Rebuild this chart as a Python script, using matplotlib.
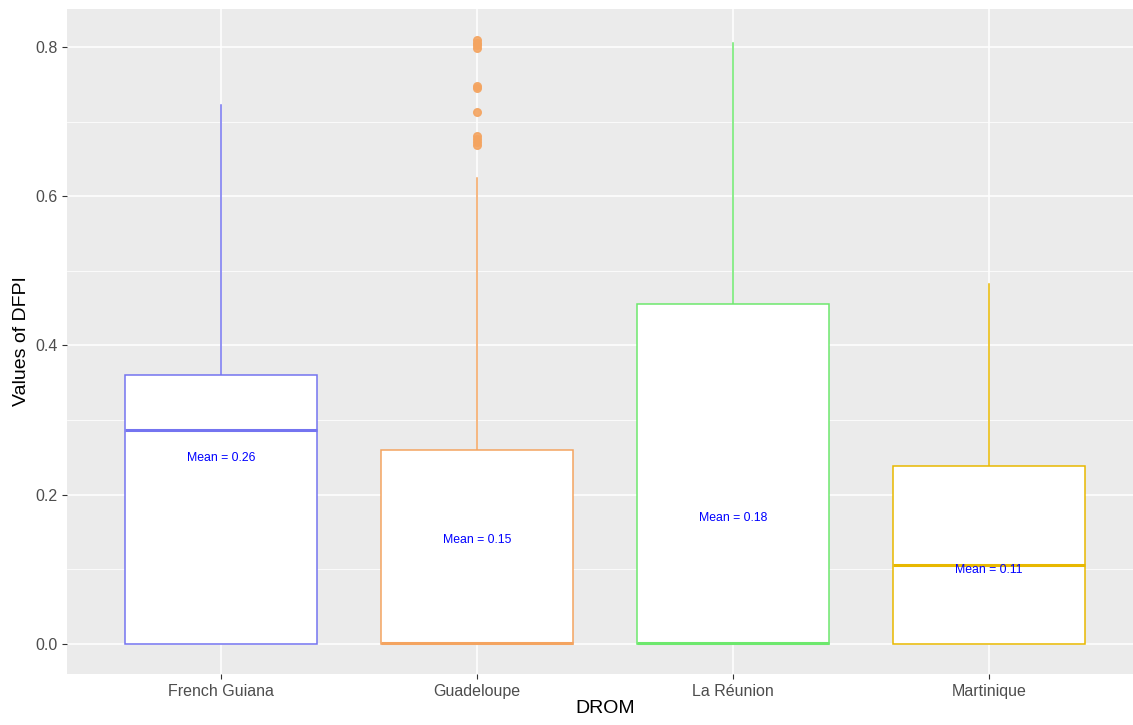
import matplotlib.pyplot as plt

plt.rcParams['font.family'] = ['Liberation Sans', 'DejaVu Sans']

# DFPI summary per DROM
regions = ['French Guiana', 'Guadeloupe', 'La Réunion', 'Martinique']
q1 = [0.0, 0.0, 0.0, 0.0]
medians = [0.286, 0.001, 0.001, 0.106]
q3 = [0.361, 0.260, 0.455, 0.238]
whisk_lo = [0.0, 0.0, 0.0, 0.0]
whisk_hi = [0.722, 0.625, 0.805, 0.483]
outliers = [
    [],
    [0.669, 0.673, 0.677, 0.681, 0.713, 0.745, 0.748, 0.799, 0.803, 0.806, 0.810],
    [],
    [],
]
means = [0.26, 0.15, 0.18, 0.11]
colors = ['#7474F0', '#F4A460', '#6DE86D', '#E8B800']

stats = []
for i, name in enumerate(regions):
    stats.append({
        'label': name,
        'q1': q1[i],
        'med': medians[i],
        'q3': q3[i],
        'whislo': whisk_lo[i],
        'whishi': whisk_hi[i],
        'fliers': outliers[i],
    })

fig = plt.figure(figsize=(11.33, 7.25), dpi=100)
# panel runs slightly past the right edge of the canvas
ax = fig.add_axes([67.4 / 1133, 51 / 725, 1075 / 1133, 665 / 725])
ax.set_facecolor('#EBEBEB')

pos = list(range(1, len(regions) + 1))
bp = ax.bxp(stats, positions=pos, widths=0.75, patch_artist=True,
            showcaps=False, manage_ticks=False)

for i, c in enumerate(colors):
    bp['boxes'][i].set(facecolor='white', edgecolor=c, linewidth=1.1, zorder=3)
    bp['medians'][i].set(color=c, linewidth=2.2, zorder=4)
    for w in bp['whiskers'][2 * i:2 * i + 2]:
        w.set(color=c, linewidth=1.1, zorder=2)
    bp['fliers'][i].set(marker='o', markersize=5.5, markerfacecolor=c,
                        markeredgecolor=c, alpha=0.9, zorder=3)

# mean labels inside the boxes
for x, m in zip(pos, means):
    ax.annotate(f'Mean = {m:.2f}', (x, m), xytext=(0, -6), textcoords='offset points',
                ha='center', va='center', color='blue', fontsize=8.8, zorder=5)

ax.set_xlim(0.4, 4.6)
ax.set_ylim(-0.0405, 0.851)
ax.set_xticks(pos)
ax.set_xticklabels(regions)
ax.set_yticks([0.0, 0.2, 0.4, 0.6, 0.8])
ax.set_yticklabels(['0.0', '0.2', '0.4', '0.6', '0.8'])
ax.set_yticks([0.1, 0.3, 0.5, 0.7], minor=True)

ax.grid(True, which='major', color='white', linewidth=1.1, zorder=0)
ax.grid(True, which='minor', axis='y', color='white', linewidth=0.55, zorder=0)
ax.set_axisbelow(True)
for s in ax.spines.values():
    s.set_visible(False)
ax.tick_params(axis='both', which='major', colors='#333333', labelcolor='#4D4D4D',
               labelsize=11.5, length=3.5, width=0.8)
ax.tick_params(axis='y', which='minor', length=0)

ax.set_xlabel('DROM', fontsize=14, labelpad=1)
ax.set_ylabel('Values of DFPI', fontsize=14, labelpad=4)

plt.savefig('out.png', dpi=100)
